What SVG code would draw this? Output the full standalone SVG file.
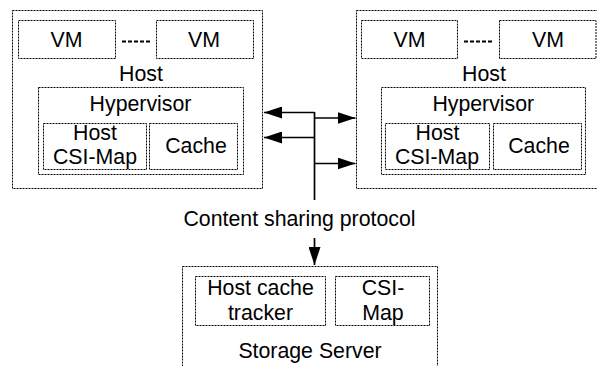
<svg xmlns="http://www.w3.org/2000/svg" width="597" height="366" viewBox="0 0 597 366">
  <style>
    .box { fill: none; stroke: #000; stroke-width: 1; stroke-dasharray: 2 1; }
    .lbl { font-family: "Liberation Sans", Arial, sans-serif; font-size: 21.3px; fill: #000; text-anchor: middle; }
    .vmdash { stroke: #000; stroke-width: 2; stroke-dasharray: 4 2; fill: none; }
    .wire { stroke: #000; stroke-width: 1.7; fill: none; }
  </style>
  <defs>
    <marker id="head" viewBox="0 0 18 12" refX="18" refY="6" markerWidth="18" markerHeight="12" markerUnits="userSpaceOnUse" orient="auto">
      <path d="M0,0 L18,6 L0,12 Z" fill="#000"/>
    </marker>
  </defs>
  <rect width="597" height="366" fill="#fff"/>

  <!-- host A -->
  <g id="hostA">
    <rect class="box" x="12.5" y="10.5" width="250" height="178"/>
    <g id="hostA-vm1">
      <rect class="box" x="18.5" y="20.5" width="97" height="38"/>
      <text class="lbl" x="66.5" y="47">VM</text>
    </g>
    <line class="vmdash" x1="122" y1="41.5" x2="152" y2="41.5"/>
    <g id="hostA-vm2">
      <rect class="box" x="156.5" y="20.5" width="97" height="38"/>
      <text class="lbl" x="204" y="47">VM</text>
    </g>
    <text class="lbl" x="141" y="81">Host</text>
    <g id="hostA-hypervisor">
      <rect class="box" x="38.5" y="87.5" width="205" height="87"/>
      <text class="lbl" x="140.5" y="111">Hypervisor</text>
      <g id="hostA-csimap">
        <rect class="box" x="43.5" y="123.5" width="103" height="46"/>
        <text class="lbl" x="95" y="139.5">Host</text>
        <text class="lbl" x="95" y="163.5">CSI-Map</text>
      </g>
      <g id="hostA-cache">
        <rect class="box" x="149.5" y="123.5" width="88" height="46"/>
        <text class="lbl" x="196" y="153">Cache</text>
      </g>
    </g>
  </g>

  <!-- host B -->
  <g id="hostB">
    <rect class="box" x="356.5" y="10.5" width="250" height="178"/>
    <g id="hostB-vm1">
      <rect class="box" x="361.5" y="20.5" width="96" height="38"/>
      <text class="lbl" x="409.5" y="47">VM</text>
    </g>
    <line class="vmdash" x1="464" y1="41.5" x2="494" y2="41.5"/>
    <g id="hostB-vm2">
      <rect class="box" x="499.5" y="20.5" width="96.5" height="38"/>
      <text class="lbl" x="548" y="47">VM</text>
    </g>
    <text class="lbl" x="484" y="81">Host</text>
    <g id="hostB-hypervisor">
      <rect class="box" x="381.5" y="87.5" width="204" height="87"/>
      <text class="lbl" x="483.3" y="111">Hypervisor</text>
      <g id="hostB-csimap">
        <rect class="box" x="385.5" y="123.5" width="104" height="46"/>
        <text class="lbl" x="437.5" y="139.5">Host</text>
        <text class="lbl" x="437" y="163.5">CSI-Map</text>
      </g>
      <g id="hostB-cache">
        <rect class="box" x="493.5" y="123.5" width="88" height="46"/>
        <text class="lbl" x="539" y="153">Cache</text>
      </g>
    </g>
  </g>

  <!-- storage server -->
  <g id="storage">
    <rect class="box" x="182.5" y="266.5" width="255" height="110"/>
    <g id="storage-tracker">
      <rect class="box" x="195.5" y="276.5" width="130" height="49"/>
      <text class="lbl" x="260.5" y="294.5">Host cache</text>
      <text class="lbl" x="260.5" y="320">tracker</text>
    </g>
    <g id="storage-csimap">
      <rect class="box" x="335.5" y="276.5" width="94" height="49"/>
      <text class="lbl" x="383" y="294.5">CSI-</text>
      <text class="lbl" x="383" y="320">Map</text>
    </g>
    <text class="lbl" x="310" y="357.5">Storage Server</text>
  </g>

  <!-- connectors -->
  <g id="connectors">
    <line class="wire" x1="314.5" y1="112" x2="314.5" y2="200"/>
    <line class="wire" x1="314.5" y1="112.5" x2="264" y2="112.5" marker-end="url(#head)"/>
    <line class="wire" x1="314.5" y1="137.5" x2="264" y2="137.5" marker-end="url(#head)"/>
    <line class="wire" x1="314.5" y1="118" x2="355.5" y2="118" marker-end="url(#head)"/>
    <line class="wire" x1="314.5" y1="163.5" x2="355.5" y2="163.5" marker-end="url(#head)"/>
    <line class="wire" x1="314.5" y1="238" x2="314.5" y2="265" marker-end="url(#head)"/>
  </g>
  <text class="lbl" x="299.5" y="226">Content sharing protocol</text>
</svg>
